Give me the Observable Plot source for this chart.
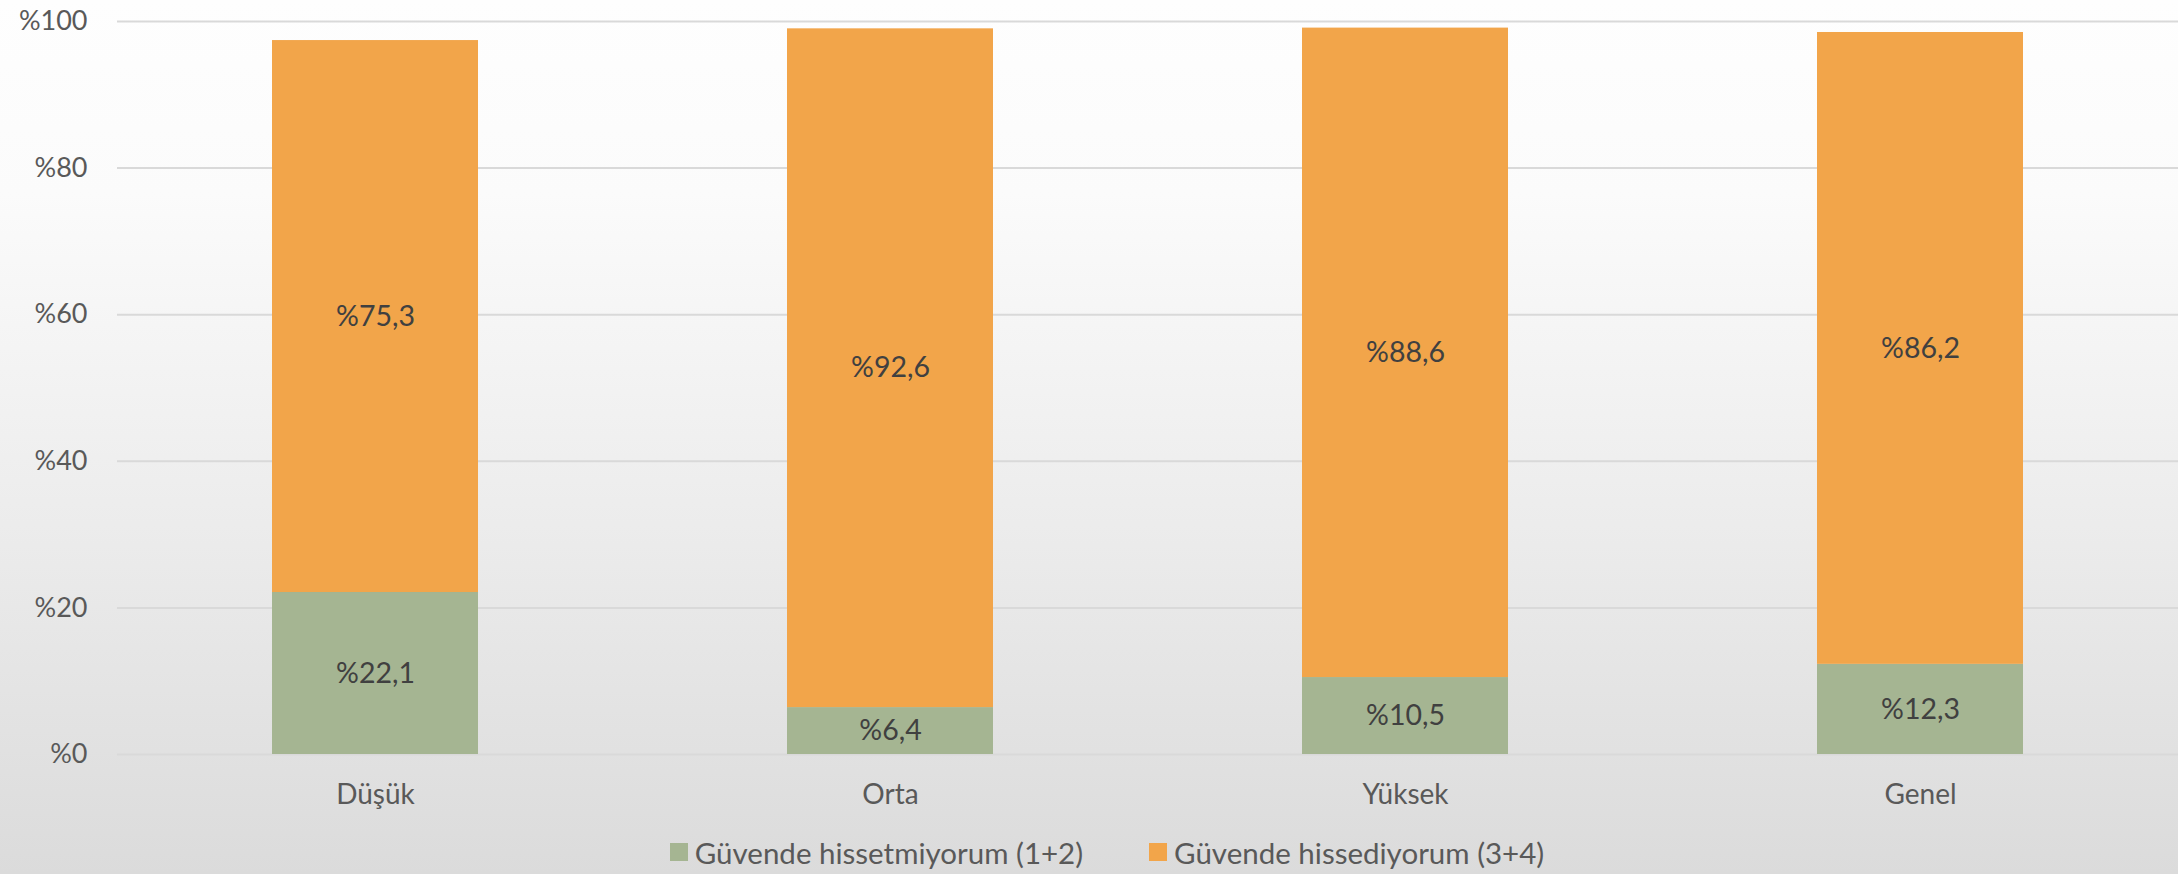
<!DOCTYPE html>
<html>
<head>
<meta charset="utf-8">
<script src="https://cdn.jsdelivr.net/npm/d3@7"></script>
<script src="https://cdn.jsdelivr.net/npm/@observablehq/plot@0.6"></script>
<style>
  html, body { margin: 0; padding: 0; }
  body {
    width: 2178px; height: 874px; overflow: hidden;
    background: linear-gradient(to bottom, #fefefe 0%, #fbfbfb 22%, #ececec 60%, #dbdbdb 100%);
    font-family: Lato, "Open Sans", sans-serif;
  }
  #chart svg { display: block; background: transparent; }
  #legend {
    height: 44px; display: flex; justify-content: center; align-items: center;
    padding-left: 36px; box-sizing: border-box;
    font-size: 29.5px; color: #595959; font-family: Lato, sans-serif;
  }
  .item { display: flex; align-items: center; margin: 0 33px; }
  .sw { width: 18px; height: 18px; margin-right: 7px; }
</style>
</head>
<body>
<div id="chart"></div>
<div id="legend"></div>
<script>
const categories = ["Düşük", "Orta", "Yüksek", "Genel"];
const seriesNames = ["Güvende hissetmiyorum (1+2)", "Güvende hissediyorum (3+4)"];
const seriesColors = ["#A5B592", "#F2A54A"];
const notSafe = [22.1, 6.4, 10.5, 12.3];
const safe = [75.3, 92.6, 88.6, 86.2];
const yTicks = [0, 20, 40, 60, 80, 100];

const data = [];
categories.forEach((c, i) => {
  data.push({cat: c, series: seriesNames[0], value: notSafe[i]});
  data.push({cat: c, series: seriesNames[1], value: safe[i]});
});

const fmt = v => "%" + String(v).replace(".", ",");

const chart = Plot.plot({
  width: 2178,
  height: 830,
  marginLeft: 117,
  marginRight: 0,
  marginTop: 21,
  marginBottom: 76,
  style: {background: "transparent", fontFamily: "Lato, 'Open Sans', sans-serif"},
  x: {domain: categories, paddingInner: 0.6, paddingOuter: 0.3, label: null},
  y: {domain: [0, 100], ticks: yTicks, label: null},
  color: {domain: seriesNames, range: seriesColors},
  marks: [
    Plot.gridY(yTicks, {stroke: "#d9d9d9", strokeOpacity: 1, strokeWidth: 2}),
    Plot.barY(data, {x: "cat", y: "value", fill: "series", order: seriesNames}),
    Plot.text(data, Plot.stackY({x: "cat", y: "value", z: "series", order: seriesNames,
      text: d => fmt(d.value), fill: "#404040", fontSize: 28.5})),
    Plot.axisY({ticks: yTicks, tickSize: 0, tickPadding: 30, tickFormat: d => "%" + d,
      fontSize: 27, fill: "#595959", label: null}),
    Plot.axisX({tickSize: 0, tickPadding: 30, fontSize: 28, fill: "#595959", label: null})
  ]
});
document.getElementById("chart").appendChild(chart);

const legend = document.getElementById("legend");
seriesNames.forEach((name, i) => {
  const it = document.createElement("div");
  it.className = "item";
  const sw = document.createElement("div");
  sw.className = "sw";
  sw.style.background = seriesColors[i];
  const tx = document.createElement("span");
  tx.textContent = name;
  it.appendChild(sw);
  it.appendChild(tx);
  legend.appendChild(it);
});
</script>
</body>
</html>
